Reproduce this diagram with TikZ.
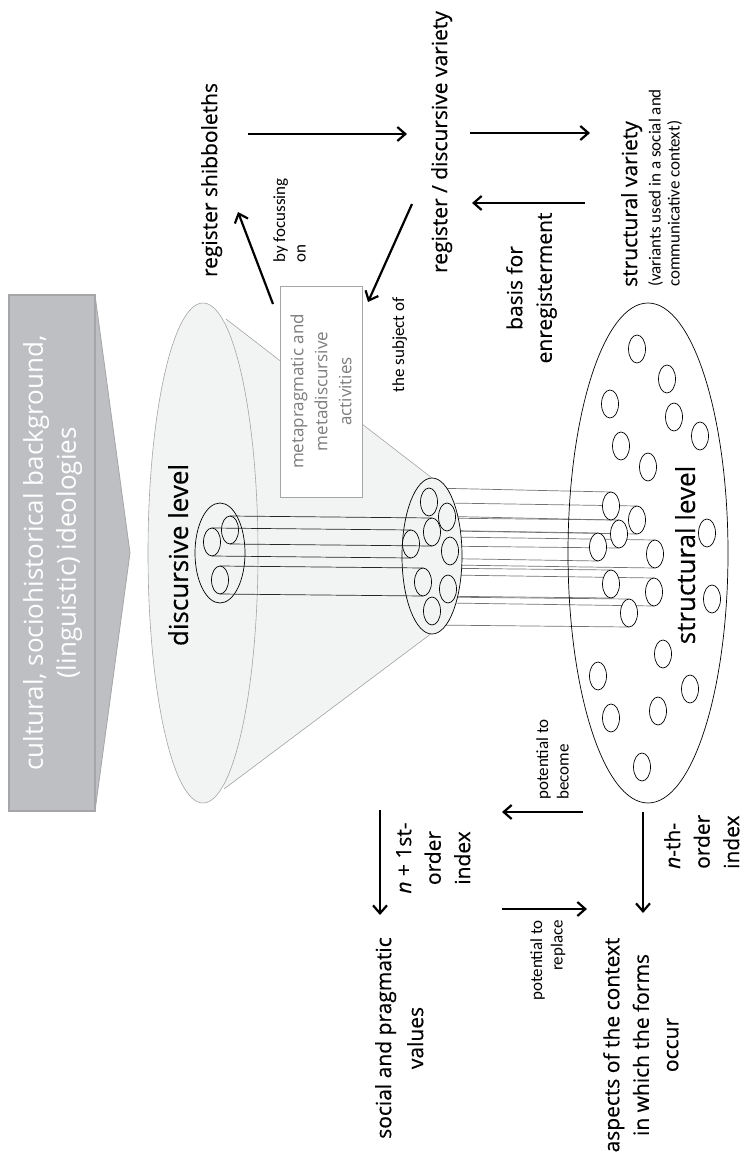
\documentclass[tikz,border=0pt]{standalone}
\usepackage{fontspec}
\setmainfont{Open Sans}
\newfontfamily\lblfont{Open Sans}[FakeBold=0.35]
\newfontfamily\calfont{Carlito}
\usepackage{tikz}
\usetikzlibrary{arrows.meta, calc}
\definecolor{bgarrow}{RGB}{190,191,195}
\definecolor{bgedge}{RGB}{166,166,168}
\definecolor{conefill}{RGB}{242,243,243}
\definecolor{coneedge}{RGB}{165,165,165}
\definecolor{boxtext}{RGB}{125,125,125}
\newcommand{\lblsize}{\lblfont\fontsize{21}{29.5}\selectfont}
\newcommand{\smlsize}{\calfont\fontsize{17}{20.5}\selectfont}
\newcommand{\subsize}{\calfont\fontsize{17}{19}\selectfont}
\newcommand{\bigsize}{\fontsize{26}{33}\selectfont}
\newcommand{\levelsize}{\lblfont\fontsize{26}{33}\selectfont}
\newcommand{\metasize}{\fontsize{17}{24}\selectfont}
\tikzset{
  lbl/.style={rotate=90, inner sep=0pt, font=\lblsize},
  sml/.style={rotate=90, inner sep=0pt, font=\smlsize},
  big/.style={rotate=90, inner sep=0pt, font=\bigsize},
  level/.style={rotate=90, inner sep=0pt, font=\levelsize},
  meta/.style={
    rotate=90, draw=bgedge, line width=0.8pt, fill=white, text=boxtext,
    minimum width=211pt, minimum height=82pt, inner sep=2pt,
    align=center, font=\metasize
  },
  link/.style={line width=2.2pt, -{Straight Barb[length=8pt,width=14pt]}},
  tube/.style={line width=0.7pt, draw=black!55},
  dtube/.style={line width=0.7pt, draw=black!85},
  ring/.style={draw=black, line width=0.7pt},
  dot/.style={ring, fill=white},
}
\begin{document}
\begin{tikzpicture}[x=1pt, y=-1pt]
  \useasboundingbox (0,0) rectangle (743,1161);

  \fill[bgarrow] (9,295) -- (95,295) -- (130,553) -- (95,811) -- (9,811) -- cycle;
  \draw[bgedge, line width=0.8pt] (95,295) -- (130,553) -- (95,811);
  \draw[bgedge, line width=1.6pt] (9,295) rectangle (95,811);
  \node[big, white, align=center, anchor=north] (BG) at (23,553)
    {cultural, sociohistorical background,\\(linguistic) ideologies};

  \fill[conefill] (203,553) ellipse [x radius=55pt, y radius=250pt];
  \fill[conefill] (226,319) -- (432,478) -- (432,633) -- (224,789) -- cycle;
  \draw[coneedge, line width=0.6pt] (203,553) ellipse [x radius=55pt, y radius=250pt];
  \draw[coneedge, line width=0.6pt] (226,319) -- (432,478) (224,789) -- (432,633);

  \foreach \ax/\ay/\bx/\by in {429/502/611/506, 447/517/637/520, 432/532/619/534,
      411/544/598/547, 450/551/655/554, 423/582/611/584, 448/589/654/592, 432/611/629/613}
    \draw[tube] (\ax,\ay-14) -- (\bx,\by-14) (\ax,\ay+14) -- (\bx,\by+14);

  \draw[ring, fill=conefill] (432,556) ellipse [x radius=30pt, y radius=78pt];
  \foreach \cx/\cy in {429/502, 447/517, 432/532, 411/544, 450/551, 423/582, 448/589, 432/611}
    \draw[ring, fill=conefill] (\cx,\cy) ellipse [x radius=8.5pt, y radius=14pt];

  \draw[ring] (220,553) ellipse [x radius=25pt, y radius=50pt];
  \foreach \cx/\cy in {230/530, 212/542, 220/580}
    \draw[ring, fill=conefill] (\cx,\cy) ellipse [x radius=8.5pt, y radius=14pt];
  \foreach \ax/\ay/\bx/\by in {230/530/432/532, 212/542/411/544, 220/580/423/582}
    \draw[dtube] (\ax,\ay-14) -- (\bx,\by-14) (\ax,\ay+14) -- (\bx,\by+14);

  \draw[ring] (648,553) ellipse [x radius=80pt, y radius=250pt];
  \foreach \cx/\cy in {611/506, 637/520, 619/534, 598/547, 655/554, 611/584, 654/592, 629/613,
      637/349, 667/379, 610/404, 674/417, 700/436, 621/446, 648/467, 707/533, 712/599,
      663/654, 598/676, 690/689, 658/711, 611/718, 642/767}
    \draw[dot] (\cx,\cy) ellipse [x radius=8.5pt, y radius=14pt];

  \node[meta] (META) at (321,391.5) {metapragmatic and\\metadiscursive\\activities};

  \node[level, anchor=north] (DISC) at (168,555) {discursive level};
  \node[level, anchor=north] (STRL) at (675,555) {structural level};

  \node[lbl, anchor=north] (SHIB) at (201,180) {register shibboleths};
  \node[lbl, anchor=north] (REGVAR) at (431,142) {register / discursive variety};
  \node[lbl, anchor=north west] (STRVAR) at (621,287) {structural variety};
  \node[rotate=90, inner sep=0pt, font=\subsize, align=left, anchor=north west] (STRSUB)
    at (648,287) {(variants used in a social and\\communicative context)};
  \node[lbl, align=center, anchor=north] (BASIS) at (506,288) {basis for\\enregisterment};
  \node[sml, align=left, anchor=north west] (FOCUS) at (273,263) {by focussing\\on};
  \node[sml, anchor=north] (SUBJ) at (392,345) {the subject of};

  \node[lbl, align=center, anchor=north] (NIDX) at (396,858) {\textit{n} + 1st-\\order\\index};
  \node[sml, align=left, anchor=north west] (BECOME) at (536,800) {potential to\\become};
  \node[lbl, align=left, anchor=north west] (NTH) at (664,869) {\textit{n}-th-\\order\\index};
  \node[sml, align=right, anchor=north east] (REPLACE) at (530,920) {potential to\\replace};
  \node[rotate=90, inner sep=0pt, font=\lblfont\fontsize{21}{32}\selectfont, align=center, anchor=north]
    (SOC) at (375,1038) {social and pragmatic\\values};
  \node[lbl, align=center, anchor=north] (ASP) at (603,1045)
    {aspects of the context\\in which the forms\\occur};

  \coordinate (shibOut) at (248,134);
  \coordinate (regIn) at (407,134);
  \coordinate (regOut) at (470,133);
  \coordinate (strIn) at (590,133);
  \coordinate (strOut) at (585,203);
  \coordinate (regBack) at (472,203);
  \coordinate (metaOut) at (273,304);
  \coordinate (shibIn) at (238,212);
  \coordinate (regDown) at (412,204);
  \coordinate (metaIn) at (368,302);
  \coordinate (idxTop) at (380,810);
  \coordinate (socIn) at (380,915);
  \coordinate (becStart) at (583,812);
  \coordinate (becEnd) at (502,812);
  \coordinate (nthTop) at (643,812);
  \coordinate (aspIn) at (643,913);
  \coordinate (repStart) at (502,909);
  \coordinate (repEnd) at (587,909);

  \draw[link] (shibOut) -- (regIn);
  \draw[link] (regOut) -- (strIn);
  \draw[link] (strOut) -- (regBack);
  \draw[link] (metaOut) -- (shibIn);
  \draw[link] (regDown) -- (metaIn);
  \draw[link] (idxTop) -- (socIn);
  \draw[link] (becStart) -- (becEnd);
  \draw[link] (nthTop) -- (aspIn);
  \draw[link] (repStart) -- (repEnd);
\end{tikzpicture}
\end{document}
